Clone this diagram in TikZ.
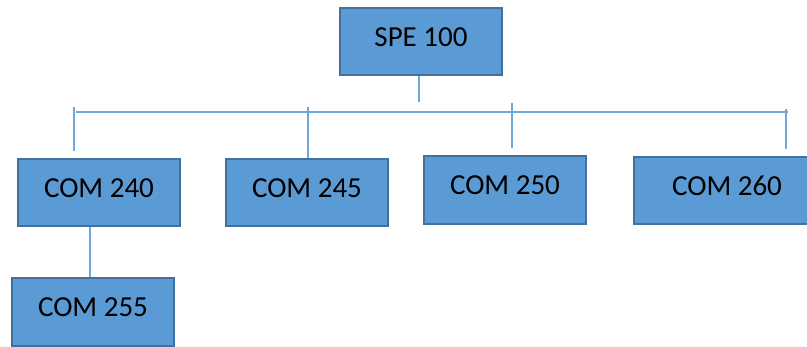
\documentclass[tikz,border=0pt]{standalone}
\usepackage{fontspec}
\setmainfont{Carlito}
\definecolor{boxfill}{HTML}{5B9BD5}
\definecolor{boxline}{HTML}{41719C}
\definecolor{linkline}{HTML}{6FA6DC}
\begin{document}
\begin{tikzpicture}[x=1pt,y=-1pt,
  course/.style={draw=boxline, line width=2pt, fill=boxfill, inner sep=0pt,
    minimum width=162pt, minimum height=67pt,
    font=\fontsize{29}{34}\selectfont, text height=19pt, text depth=9pt},
  link/.style={draw=linkline, line width=1.3pt}]
\useasboundingbox (0,0) rectangle (807,347);
\clip (0,0) rectangle (807,347);
\node[course] (spe) at (421,41.5) {SPE 100};
\node[course] (c240) at (99,192.5) {COM 240};
\node[course] (c245) at (307,192.5) {COM 245};
\node[course, minimum height=68pt] (c250) at (505,190) {COM 250};
\node[course, minimum height=67pt, minimum width=186pt] (c260) at (727,190.5) {COM 260};
\node[course, minimum height=68pt] (c255) at (93,312) {COM 255};
% bus
\coordinate (busL) at (76,112);
\coordinate (busR) at (788,112);
\coordinate (speEnd) at (419,102);
\coordinate (t240) at (74,107);
\coordinate (b240) at (74,151);
\coordinate (t245) at (308,107);
\coordinate (t250) at (512,103);
\coordinate (b250) at (512,148);
\coordinate (t260) at (786,109);
\coordinate (b260) at (786,149);
\draw[link] (spe.south -| speEnd) -- (speEnd);
\draw[link] (busL) -- (busR);
\draw[link] (t240) -- (b240);
\draw[link] (t245) -- (c245.north -| t245);
\draw[link] (t250) -- (b250);
\draw[link] (t260) -- (b260);
\draw[link] (c240.south -| 90,0) -- (c255.north -| 90,0);
\end{tikzpicture}
\end{document}
